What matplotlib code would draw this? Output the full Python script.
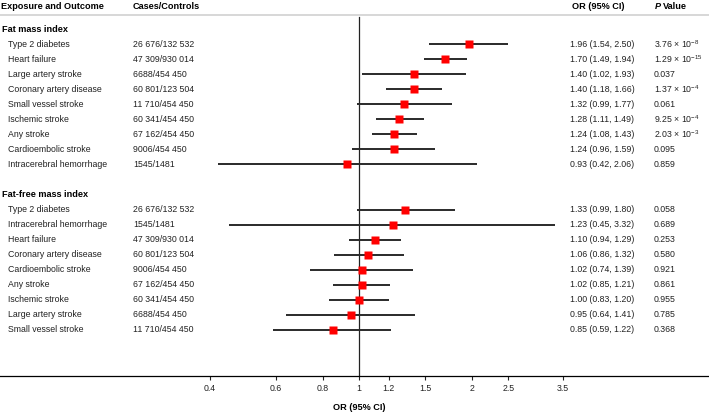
import numpy as np
import matplotlib
matplotlib.use("Agg")
import matplotlib.pyplot as plt
import matplotlib.transforms as mtransforms
from matplotlib.ticker import NullLocator

plt.rcParams['font.family'] = ['Liberation Sans', 'DejaVu Sans']
plt.rcParams['mathtext.fontset'] = 'custom'
plt.rcParams['mathtext.rm'] = 'Liberation Sans'
plt.rcParams['mathtext.it'] = 'Liberation Sans:italic'
plt.rcParams['mathtext.bf'] = 'Liberation Sans:bold'

# === Dados ===
fm_outcomes = ["Type 2 diabetes", "Heart failure", "Large artery stroke",
               "Coronary artery disease", "Small vessel stroke", "Ischemic stroke",
               "Any stroke", "Cardioembolic stroke", "Intracerebral hemorrhage"]
fm_cases = ["26 676/132 532", "47 309/930 014", "6688/454 450", "60 801/123 504",
            "11 710/454 450", "60 341/454 450", "67 162/454 450", "9006/454 450",
            "1545/1481"]
fm_or = [1.96, 1.70, 1.40, 1.40, 1.32, 1.28, 1.24, 1.24, 0.93]
fm_lo = [1.54, 1.49, 1.02, 1.18, 0.99, 1.11, 1.08, 0.96, 0.42]
fm_hi = [2.50, 1.94, 1.93, 1.66, 1.77, 1.49, 1.43, 1.59, 2.06]
fm_p = [r"3.76 × 10$^{-8}$", r"1.29 × 10$^{-15}$", "0.037", r"1.37 × 10$^{-4}$",
        "0.061", r"9.25 × 10$^{-4}$", r"2.03 × 10$^{-3}$", "0.095", "0.859"]

ffm_outcomes = ["Type 2 diabetes", "Intracerebral hemorrhage", "Heart failure",
                "Coronary artery disease", "Cardioembolic stroke", "Any stroke",
                "Ischemic stroke", "Large artery stroke", "Small vessel stroke"]
ffm_cases = ["26 676/132 532", "1545/1481", "47 309/930 014", "60 801/123 504",
             "9006/454 450", "67 162/454 450", "60 341/454 450", "6688/454 450",
             "11 710/454 450"]
ffm_or = [1.33, 1.23, 1.10, 1.06, 1.02, 1.02, 1.00, 0.95, 0.85]
ffm_lo = [0.99, 0.45, 0.94, 0.86, 0.74, 0.85, 0.83, 0.64, 0.59]
ffm_hi = [1.80, 3.32, 1.29, 1.32, 1.39, 1.21, 1.20, 1.41, 1.22]
ffm_p = ["0.058", "0.689", "0.253", "0.580", "0.921", "0.861", "0.955", "0.785", "0.368"]

ticks = [0.4, 0.6, 0.8, 1, 1.2, 1.5, 2, 2.5, 3.5]
tick_labels = ["0.4", "0.6", "0.8", "1", "1.2", "1.5", "2", "2.5", "3.5"]

# === Figura ===
W, H = 709, 413
fig = plt.figure(figsize=(W / 100, H / 100), dpi=100)
ax = fig.add_axes([0, 37 / H, 1, 376 / H])
ax.set_xscale('log')
ax.set_xlim(np.exp(-359 / 163), np.exp(350 / 163))
ax.set_ylim(23.06, -1.93)

for s in ['top', 'left', 'right']:
    ax.spines[s].set_visible(False)
ax.spines['bottom'].set_linewidth(0.9)
ax.set_yticks([])
ax.set_xticks(ticks)
ax.set_xticklabels(tick_labels)
ax.xaxis.set_minor_locator(NullLocator())
ax.tick_params(axis='x', direction='out', length=3, width=0.8, labelsize=6.3,
               pad=2.5, colors='#222222')
ax.set_xlabel("OR (95% CI)", fontsize=6.6, fontweight='bold')
ax.xaxis.set_label_coords(359 / W, -27 / 376)

# linha de referência
ax.axvline(1, ymin=0, ymax=(376 - 17) / 376, color='#222222', lw=0.9)
# linha cinza do cabeçalho
ax.axhline(-0.9, color='#d4d4d4', lw=1.3)

tr = mtransforms.blended_transform_factory(fig.transFigure, ax.transData)
fs = 6.3
hfs = 6.6

ax.text(1 / W, -1.53, "Exposure and Outcome", transform=tr, fontsize=hfs,
        fontweight='bold', va='center')
ax.text(133 / W, -1.53, "Cases/Controls", transform=tr, fontsize=hfs,
        fontweight='bold', va='center')
ax.text(572 / W, -1.53, "OR (95% CI)", transform=tr, fontsize=hfs,
        fontweight='bold', va='center')
ax.text(655 / W, -1.53, "P", transform=tr, fontsize=hfs, fontweight='bold',
        fontstyle='italic', va='center')
ax.text(663 / W, -1.53, "Value", transform=tr, fontsize=hfs,
        fontweight='bold', va='center')


def draw_group(start, title, outcomes, cases, ors, lo, hi, pvals):
    ax.text(2 / W, start, title, transform=tr, fontsize=hfs, fontweight='bold',
            va='center')
    ys = np.arange(len(outcomes)) + start + 1
    ax.hlines(ys, lo, hi, color='#2a2a2a', lw=1.4, zorder=2)
    ax.plot(ors, ys, 's', color='#ff0000', markersize=5.8, mec='none', zorder=3)
    for y, name, c, o, l, h, p in zip(ys, outcomes, cases, ors, lo, hi, pvals):
        ax.text(8 / W, y, name, transform=tr, fontsize=fs, va='center', color='#222222')
        ax.text(133 / W, y, c, transform=tr, fontsize=fs, va='center', color='#222222')
        ax.text(570 / W, y, f"{o:.2f} ({l:.2f}, {h:.2f})", transform=tr,
                fontsize=fs, va='center', color='#222222')
        ax.text(654 / W, y, p, transform=tr, fontsize=fs, va='center', color='#222222')


draw_group(0, "Fat mass index", fm_outcomes, fm_cases, fm_or, fm_lo, fm_hi, fm_p)
draw_group(11, "Fat-free mass index", ffm_outcomes, ffm_cases, ffm_or, ffm_lo,
           ffm_hi, ffm_p)

fig.savefig("out.png", dpi=100)
